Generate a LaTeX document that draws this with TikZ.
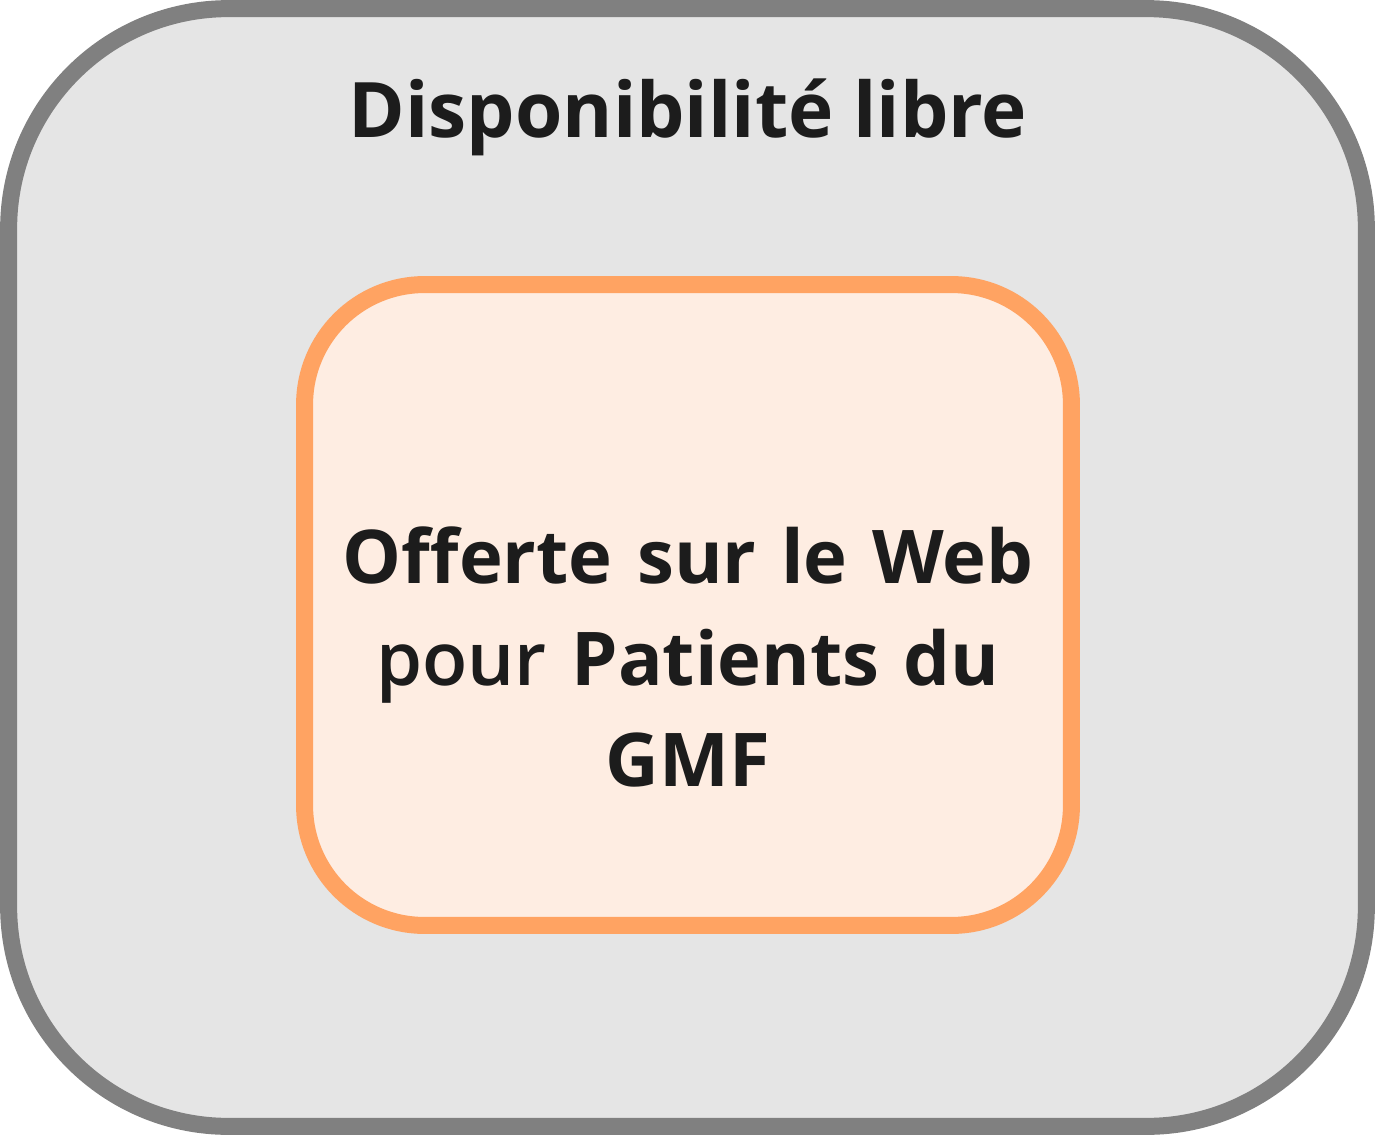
\documentclass[tikz,border=0pt]{standalone}
\usepackage{fontspec}
\setmainfont{Open Sans}
\newfontfamily\lightfont{Open Sans Light}
\usepackage{tikz}
\usetikzlibrary{shapes}
\definecolor{boxgray}{HTML}{808080}
\definecolor{fillgray}{HTML}{E5E5E5}
\definecolor{boxorange}{HTML}{FFA362}
\definecolor{fillorange}{HTML}{FEEDE2}
\definecolor{textdark}{HTML}{1C1C1C}
\tikzstyle{outerbox} = [rectangle, draw=boxgray, fill=fillgray, line width=0.34cm, rounded corners=4.4cm, inner sep=0pt]
\tikzstyle{innerbox} = [rectangle, draw=boxorange, fill=fillorange, line width=0.34cm, rounded corners=2.4cm, inner sep=0pt]
\tikzstyle{label} = [text=textdark, font=\fontsize{43.6}{58}\selectfont, inner sep=0pt]

\begin{document}
\begin{tikzpicture}[x=0.02cm, y=-0.02cm]
		\useasboundingbox (0, 0) rectangle (1375, 1135);
		\node[outerbox, minimum width=27.16cm, minimum height=22.36cm] (libre) at (687.5, 567.5) {};
		\node[innerbox, minimum width=15.34cm, minimum height=12.82cm] (web) at (688, 605) {};
		
		\node[label, anchor=base] (titre) at (688, 138) {\bfseries Disponibilité libre};
		\node[label, font=\fontsize{42.2}{58}\selectfont, align=center, text width=15cm] (offre) at (688, 657) {\bfseries Offerte sur le Web\\{\lightfont pour} \bfseries Patients du\\\bfseries GMF};
		
	\end{tikzpicture}
\end{document}
